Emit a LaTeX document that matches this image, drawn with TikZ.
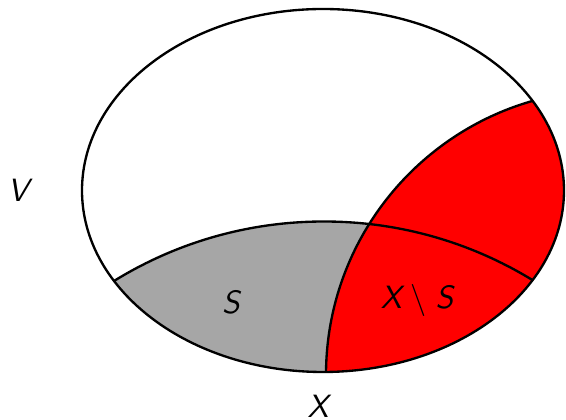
\documentclass[tikz,border=0pt]{standalone}
\usepackage{amsmath,amssymb}
\usepackage{tikz}
\usetikzlibrary{positioning}

\begin{document}
\begin{tikzpicture}[x=0.012cm, y=-0.012cm,
  rim/.style={draw=black, line width=0.8pt},
  setS/.style={fill=black!35},
  setX/.style={fill=red},
  lab/.style={font=\fontsize{11}{13}\selectfont\sffamily\itshape, inner sep=1pt}]
  \useasboundingbox (0,0) rectangle (566,420);
  \coordinate (Vc) at (323,190.5);
  \coordinate (Sc) at (324,621.5);
  \coordinate (Xc) at (611,375);
  % regions inside V
  \begin{scope}
    \clip (Vc) ellipse [x radius=241, y radius=181.5];
    \fill[setS] (Sc) circle [radius=400];
    \fill[setX] (Xc) circle [radius=285];
    \draw[rim] (Sc) circle [radius=400];
    \draw[rim] (Xc) circle [radius=285];
  \end{scope}
  \draw[rim] (Vc) ellipse [x radius=241, y radius=181.5];
  % labels
  \node[lab] (V) at (18,190) {V};
  \node[lab] (S) at (231,302) {S};
  \node[lab] (XminusS) at (417,300) {X$\;\setminus\;$S};
  \node[lab] (X) at (318,406) {X};
\end{tikzpicture}
\end{document}
